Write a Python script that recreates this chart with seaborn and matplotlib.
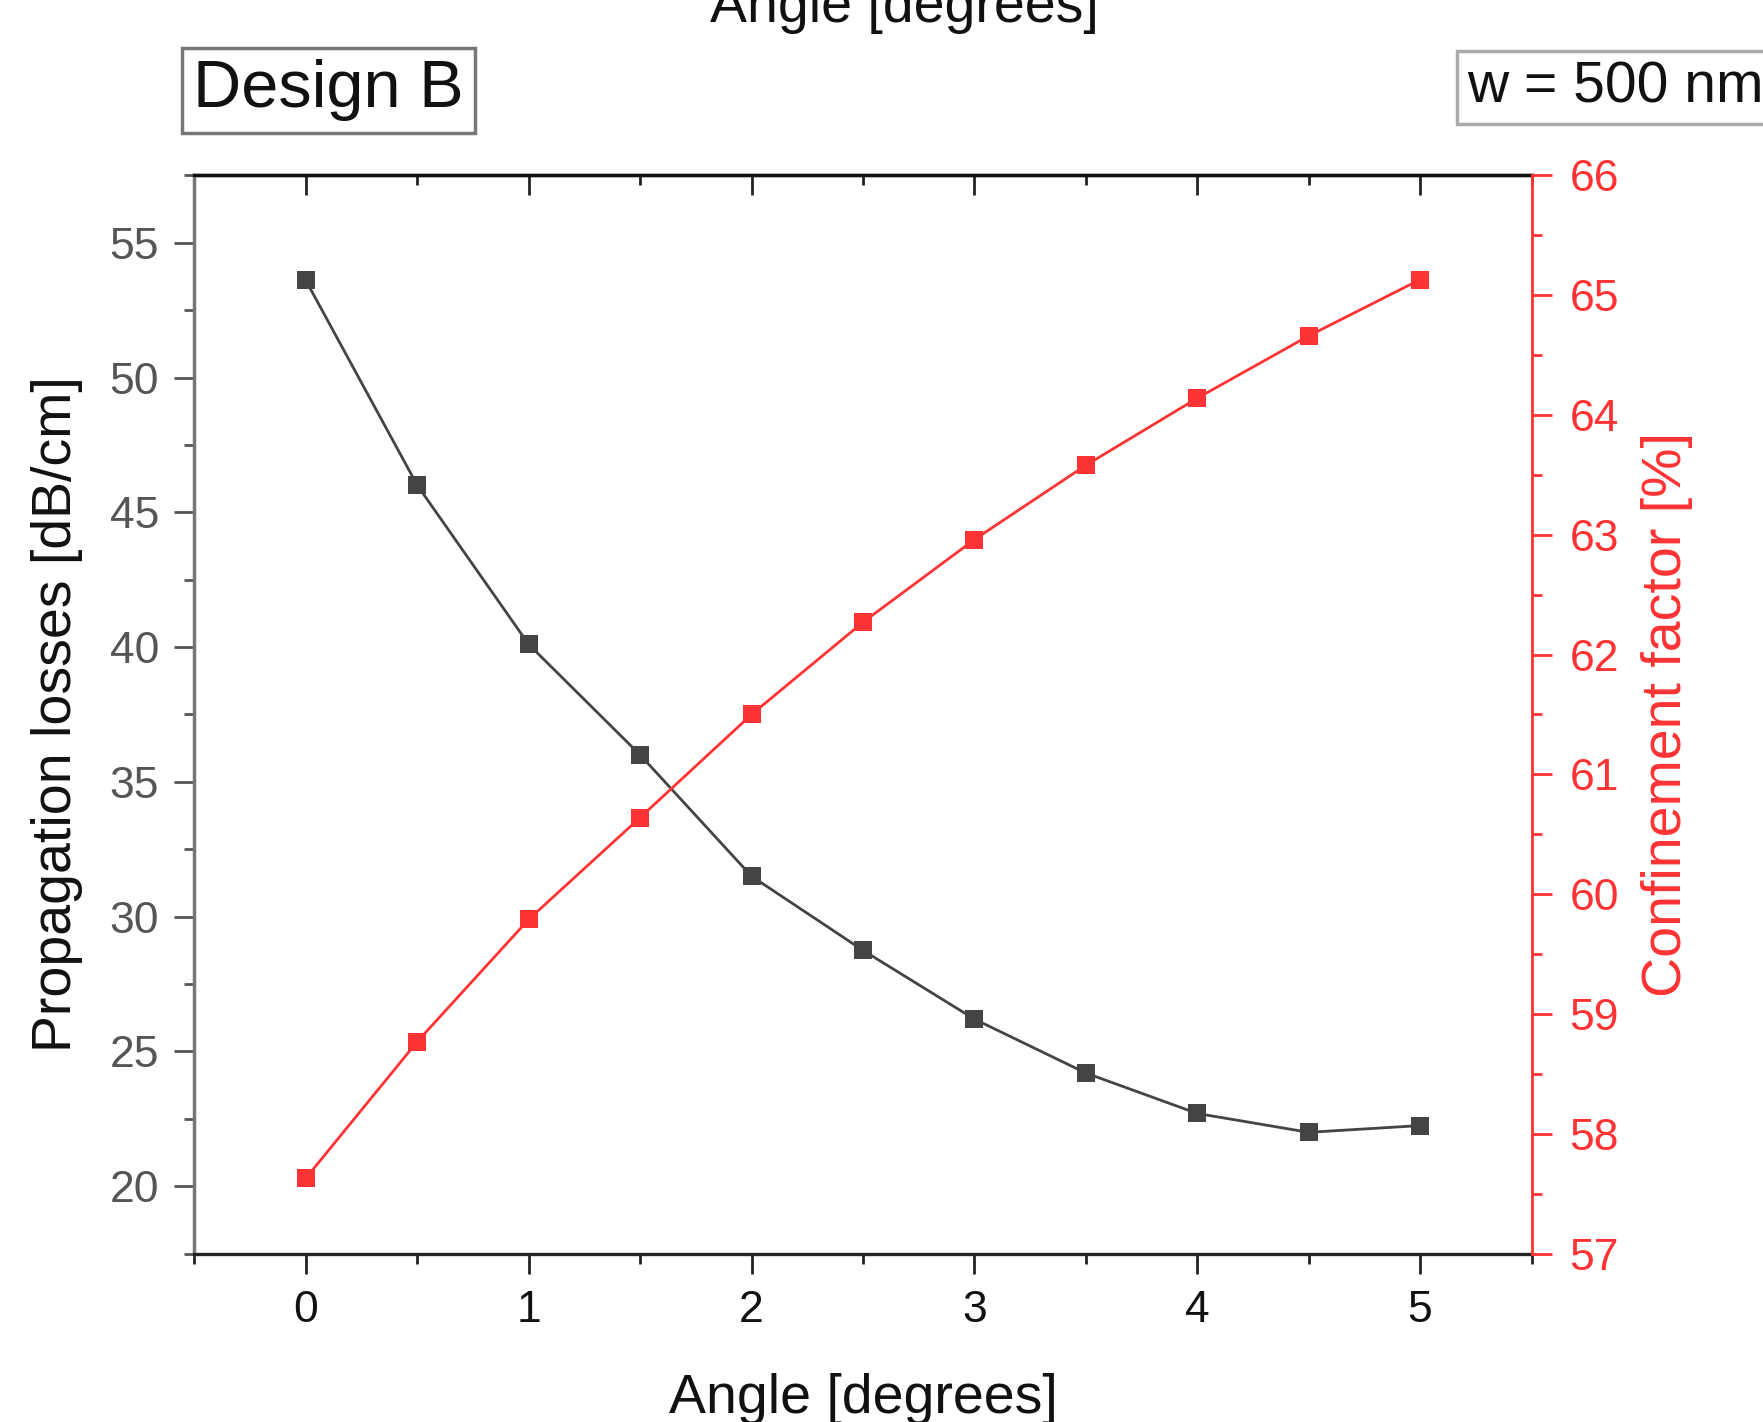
import pandas as pd
import seaborn as sns
import matplotlib.pyplot as plt
from matplotlib.ticker import MultipleLocator

# values
angle = [0, 0.5, 1, 1.5, 2, 2.5, 3, 3.5, 4, 4.5, 5]
losses = [53.6, 46.0, 40.1, 36.0, 31.5, 28.75, 26.2, 24.2, 22.7, 22.0, 22.25]
confinement = [57.63, 58.77, 59.79, 60.64, 61.50, 62.27, 62.96, 63.58, 64.14, 64.66, 65.13]

df = pd.DataFrame({'angle': angle, 'losses': losses, 'confinement': confinement})

sns.set_theme(style='ticks')
plt.rcParams['font.family'] = ['Liberation Sans', 'DejaVu Sans']

black = '#444444'
red = '#ff3333'

fig = plt.figure(figsize=(17.63, 14.22), dpi=100)
ax = fig.add_axes([0.1103, 0.1184, 0.7584, 0.7583])
ax2 = ax.twinx()

sns.lineplot(data=df, x='angle', y='losses', ax=ax, color=black, marker='s',
             markersize=13, markeredgewidth=0, linewidth=2.0)
sns.lineplot(data=df, x='angle', y='confinement', ax=ax2, color=red, marker='s',
             markersize=13, markeredgewidth=0, linewidth=2.0)

# limits and ticks
ax.set_xlim(-0.5, 5.5)
ax.set_ylim(17.5, 57.5)
ax2.set_ylim(57, 66)
ax.xaxis.set_major_locator(MultipleLocator(1))
ax.xaxis.set_minor_locator(MultipleLocator(0.5))
ax.yaxis.set_major_locator(MultipleLocator(5))
ax.yaxis.set_minor_locator(MultipleLocator(2.5))
ax2.yaxis.set_major_locator(MultipleLocator(1))
ax2.yaxis.set_minor_locator(MultipleLocator(0.5))

ax.tick_params(axis='y', which='both', direction='out', width=2, color='#555555',
               labelsize=32, labelcolor='#555555', pad=11)
ax.tick_params(axis='y', which='major', length=14.5)
ax.tick_params(axis='y', which='minor', length=7)
ax.tick_params(axis='x', which='both', direction='out', width=2, color='#222222',
               labelsize=32, labelcolor='#111111', pad=12)
ax.tick_params(axis='x', which='major', length=14.5)
ax.tick_params(axis='x', which='minor', length=7)
ax2.tick_params(axis='y', which='both', direction='out', width=2, color=red,
                labelsize=32, labelcolor=red, pad=13)
ax2.tick_params(axis='y', which='major', length=14.5)
ax2.tick_params(axis='y', which='minor', length=7)

# top axis: inward ticks, no labels
top = ax.secondary_xaxis('top')
top.xaxis.set_major_locator(MultipleLocator(1))
top.xaxis.set_minor_locator(MultipleLocator(0.5))
top.tick_params(which='both', direction='in', width=2, color='#222222', labeltop=False)
top.tick_params(which='major', length=14.5)
top.tick_params(which='minor', length=7)
top.spines['top'].set_linewidth(2.4)
top.spines['top'].set_color('#111111')

# spines
ax.spines['left'].set_color('#777777')
ax.spines['left'].set_linewidth(2.5)
ax.spines['bottom'].set_color('#222222')
ax.spines['bottom'].set_linewidth(2.4)
ax.spines['top'].set_color('#111111')
ax.spines['top'].set_linewidth(2.4)
ax.spines['right'].set_visible(False)
ax2.spines['left'].set_visible(False)
ax2.spines['top'].set_visible(False)
ax2.spines['bottom'].set_visible(False)
ax2.spines['right'].set_color(red)
ax2.spines['right'].set_linewidth(2)

ax.set_xlabel('Angle [degrees]', fontsize=40, labelpad=30, color='#111111')
ax.set_ylabel('Propagation losses [dB/cm]', fontsize=40, labelpad=19, color='#111111')
ax2.set_ylabel('Confinement factor [%]', fontsize=40, labelpad=16, color=red)

# text cut at the top edge (label of the panel above)
fig.text(0.513, 0.9845, 'Angle [degrees]', fontsize=40, ha='center', va='baseline',
         color='#111111')

fig.text(0.1095, 0.9364, 'Design B', fontsize=48, ha='left', va='center', color='#111111',
         bbox=dict(boxstyle='square,pad=0.17', fc='white', ec='#777777', lw=2.5))
fig.text(0.832, 0.9385, 'w = 500 nm', fontsize=41, ha='left', va='center', color='#111111',
         bbox=dict(boxstyle='square,pad=0.17', fc='white', ec='#aaaaaa', lw=2.5))

fig.savefig('out.png', dpi=100)
